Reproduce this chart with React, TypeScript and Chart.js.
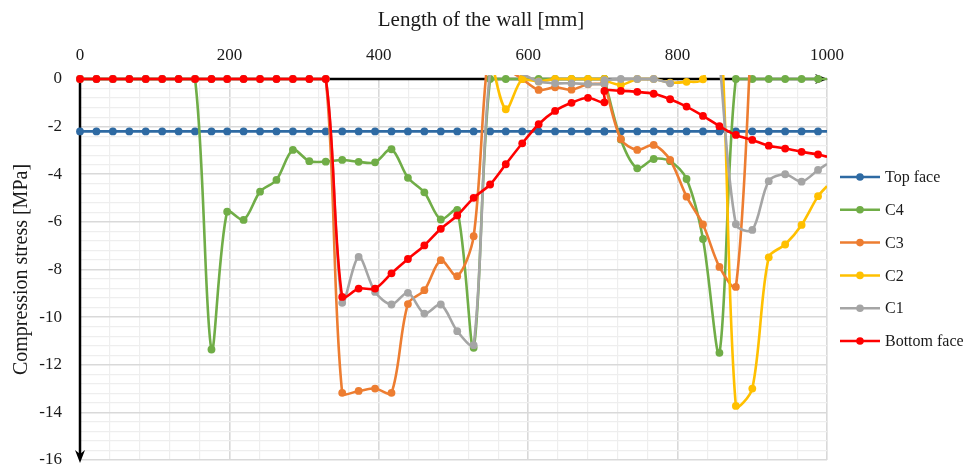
import React, { useEffect, useRef } from "react";
import { Chart, registerables } from "chart.js";

Chart.register(...registerables);

const FONT = '"Liberation Serif", "Times New Roman", serif';
const INK = "#1a1a1a";

// Measuring positions along the wall (mm); the second section restarts at 702 mm
const lengthMm = [
  0, 22, 44, 66, 88, 110, 132, 154, 176, 197,
  219, 241, 263, 285, 307, 329, 351, 373, 395, 417,
  439, 461, 483, 505, 527, 549, 570, 592, 614, 636,
  658, 680, 702,
  702, 724, 746, 768, 790, 812, 834, 856, 878, 900,
  922, 944, 966, 988,
  1000,
];

// Stresses in MPa (null = no reading); values above 0 fall outside the plotted range
const topFace = [
  -2.2, -2.2, -2.2, -2.2, -2.2, -2.2, -2.2, -2.2, -2.2, -2.2,
  -2.2, -2.2, -2.2, -2.2, -2.2, -2.2, -2.2, -2.2, -2.2, -2.2,
  -2.2, -2.2, -2.2, -2.2, -2.2, -2.2, -2.2, -2.2, -2.2, -2.2,
  -2.2, -2.2, -2.2,
  -2.2, -2.2, -2.2, -2.2, -2.2, -2.2, -2.2, -2.2, -2.2, -2.2,
  -2.2, -2.2, -2.2, -2.2,
  -2.2,
];

const c4 = [
  0, 0, 0, 0, 0, 0, 0, 0, -11.36, -5.57,
  -5.92, -4.73, -4.24, -2.98, -3.45, -3.47, -3.4, -3.48, -3.5, -2.95,
  -4.15, -4.76, -5.9, -5.5, -11.29, 0, 0, 0, 0, 0,
  0, 0, 0,
  0, -2.54, -3.75, -3.36, -3.45, -4.2, -6.72, -11.5, 0, 0,
  0, 0, 0, 0,
  0,
];

const c3 = [
  0, 0, 0, 0, 0, 0, 0, 0, 0, 0,
  0, 0, 0, 0, 0, 0, -13.18, -13.1, -13.0, -13.18,
  -9.45, -8.87, -7.61, -8.28, -6.6, 1.5, 0.5, 0, -0.46, -0.35,
  -0.45, -0.22, -0.2,
  -0.15, -2.52, -2.98, -2.77, -3.4, -4.94, -6.11, -7.89, -8.73, 2.6,
  null, null, null, null,
  null,
];

const c2 = [
  null, null, null, null, null, null, null, null, null, null,
  null, null, null, null, null, null, null, null, null, null,
  null, null, null, null, null, 1.0, -1.27, 0, -0.1, 0,
  0, 0, 0,
  -0.05, -0.25, 0, 0, -0.15, -0.12, -0.01, 2.7, -13.73, -13.0,
  -7.49, -6.95, -6.13, -4.92,
  -4.5,
];

const c1 = [
  0, 0, 0, 0, 0, 0, 0, 0, 0, 0,
  0, 0, 0, 0, 0, 0, -9.4, -7.47, -8.94, -9.47,
  -8.98, -9.85, -9.47, -10.59, -11.18, 0.3, 0.3, 0.2, -0.11, -0.18,
  -0.18, -0.21, -0.2,
  -0.05, 0, 0, 0, -0.18, null, null, 0.8, -6.1, -6.34,
  -4.29, -4.0, -4.31, -3.82,
  -3.57,
];

const bottomFace = [
  0, 0, 0, 0, 0, 0, 0, 0, 0, 0,
  0, 0, 0, 0, 0, 0, -9.15, -8.8, -8.8, -8.16,
  -7.56, -6.99, -6.29, -5.73, -4.99, -4.43, -3.58, -2.7, -1.9, -1.34,
  -1.0, -0.79, -0.98,
  -0.5, -0.5, -0.54, -0.62, -0.85, -1.16, -1.55, -1.98, -2.35, -2.56,
  -2.8, -2.92, -3.06, -3.17,
  -3.26,
];

const seriesNames = ["Top face", "C4", "C3", "C2", "C1", "Bottom face"];
const seriesColors = ["#2E6AA3", "#70AD47", "#ED7D31", "#FFC000", "#A5A5A5", "#FF0000"];
const seriesValues = [topFace, c4, c3, c2, c1, bottomFace];

const xTitle = "Length of the wall [mm]";
const yTitle = "Compression stress [MPa]";
const xMin = 0;
const xMax = 1000;
const xMajor = 200;
const xMinor = 40;
const yMin = -16;
const yMax = 0;
const yMajor = 2;
const yMinor = 0.4;

const isMultiple = (v: number, step: number) =>
  Math.abs(v / step - Math.round(v / step)) < 1e-6;

// Axis lines with arrowheads, axis titles and the side legend
const framePlugin = {
  id: "frame",
  beforeDatasetsDraw(chart: any) {
    const { ctx, chartArea } = chart;
    const { left, right, top, bottom } = chartArea;
    ctx.save();
    ctx.strokeStyle = "#000";
    ctx.fillStyle = "#000";
    ctx.lineWidth = 2.5;
    ctx.beginPath();
    ctx.moveTo(left, top);
    ctx.lineTo(right - 6, top);
    ctx.moveTo(left, top);
    ctx.lineTo(left, bottom - 4);
    ctx.stroke();
    ctx.beginPath();
    ctx.moveTo(right + 1, top);
    ctx.lineTo(right - 12, top - 5);
    ctx.lineTo(right - 8, top);
    ctx.lineTo(right - 12, top + 5);
    ctx.closePath();
    ctx.fill();
    ctx.beginPath();
    ctx.moveTo(left, bottom + 3);
    ctx.lineTo(left - 5, bottom - 10);
    ctx.lineTo(left, bottom - 6);
    ctx.lineTo(left + 5, bottom - 10);
    ctx.closePath();
    ctx.fill();
    ctx.restore();
  },
  afterDraw(chart: any) {
    const { ctx, chartArea } = chart;
    ctx.save();
    ctx.fillStyle = INK;
    ctx.textAlign = "center";
    ctx.textBaseline = "middle";
    ctx.font = `21px ${FONT}`;
    ctx.fillText(xTitle, 481, 20);
    ctx.font = `20px ${FONT}`;
    ctx.save();
    ctx.translate(22, (chartArea.top + chartArea.bottom) / 2);
    ctx.rotate(-Math.PI / 2);
    ctx.fillText(yTitle, 0, 0);
    ctx.restore();

    // legend
    const lx = 840;
    const startY = 177;
    const stepY = 32.8;
    ctx.font = `16px ${FONT}`;
    ctx.textAlign = "left";
    seriesNames.forEach((name, i) => {
      const y = startY + i * stepY;
      ctx.strokeStyle = seriesColors[i];
      ctx.fillStyle = seriesColors[i];
      ctx.lineWidth = 2.5;
      ctx.beginPath();
      ctx.moveTo(lx, y);
      ctx.lineTo(lx + 40, y);
      ctx.stroke();
      ctx.beginPath();
      ctx.arc(lx + 20, y, 3.8, 0, Math.PI * 2);
      ctx.fill();
      ctx.fillStyle = INK;
      ctx.fillText(name, lx + 45, y + 1);
    });
    ctx.restore();
  },
};

export default function App() {
  const canvasRef = useRef<HTMLCanvasElement | null>(null);

  useEffect(() => {
    const canvas = canvasRef.current;
    if (!canvas) return;
    const lastIndex = lengthMm.length - 1;

    const datasets = seriesNames.map((name, i) => ({
      label: name,
      data: lengthMm.map((x, k) => ({ x, y: seriesValues[i][k] })),
      borderColor: seriesColors[i],
      backgroundColor: seriesColors[i],
      borderWidth: 2.6,
      pointRadius: (c: any) => (c.dataIndex === lastIndex ? 0 : 3.9),
      pointBorderWidth: 0,
      pointHoverRadius: 0,
      tension: 0.3,
      spanGaps: false,
      clip: { left: 6, top: 4, right: 0, bottom: 6 },
      order: seriesNames.length - 1 - i,
    }));

    const chart = new Chart(canvas, {
      type: "line",
      data: { datasets },
      plugins: [framePlugin],
      options: {
        animation: false,
        responsive: false,
        events: [],
        layout: { padding: { left: 0, top: 0, right: 136, bottom: 4 } },
        plugins: {
          legend: { display: false },
          tooltip: { enabled: false },
        },
        scales: {
          x: {
            type: "linear",
            position: "top",
            min: xMin,
            max: xMax,
            afterFit: (s: any) => {
              s.height = 79;
              s.paddingLeft = 0;
              s.paddingRight = 0;
            },
            ticks: {
              stepSize: xMinor,
              autoSkip: false,
              maxRotation: 0,
              padding: 13,
              color: INK,
              font: { family: FONT, size: 17 },
              callback: (v: any) => (isMultiple(Number(v), xMajor) ? String(Math.round(Number(v))) : ""),
            },
            grid: {
              drawTicks: false,
              color: (c: any) => (isMultiple(c.tick.value, xMajor) ? "#d9d9d9" : "#eeeeee"),
              lineWidth: (c: any) => (isMultiple(c.tick.value, xMajor) ? 1.6 : 1.2),
            },
            border: { display: false },
          },
          y: {
            type: "linear",
            min: yMin,
            max: yMax,
            afterFit: (s: any) => {
              s.width = 80;
              s.paddingTop = 0;
              s.paddingBottom = 0;
            },
            ticks: {
              stepSize: yMinor,
              autoSkip: false,
              padding: 18,
              color: INK,
              font: { family: FONT, size: 17 },
              callback: (v: any) => (isMultiple(Number(v), yMajor) ? String(Math.round(Number(v))) : ""),
            },
            grid: {
              drawTicks: false,
              color: (c: any) => (isMultiple(c.tick.value, yMajor) ? "#d9d9d9" : "#eeeeee"),
              lineWidth: (c: any) => (isMultiple(c.tick.value, yMajor) ? 1.6 : 1.2),
            },
            border: { display: false },
          },
        },
      },
    });

    return () => chart.destroy();
  }, []);

  return (
    <div style={{ position: "absolute", left: 0, top: 0, width: 963, height: 464, background: "#fff" }}>
      <canvas ref={canvasRef} width={963} height={464} style={{ display: "block" }} />
    </div>
  );
}
